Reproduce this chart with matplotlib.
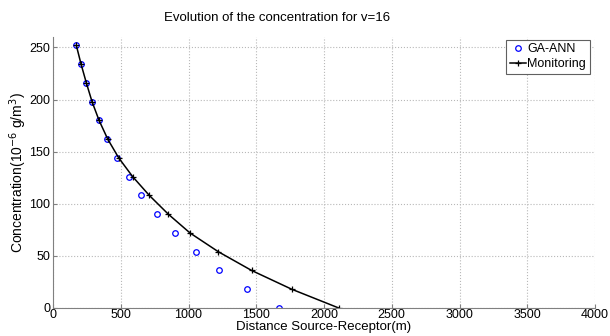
import matplotlib.pyplot as plt

plt.rcParams['font.family'] = ['Liberation Sans', 'DejaVu Sans']

# concentration levels (10^-6 g/m^3)
conc = [252, 234, 216, 198, 180, 162, 144, 126, 108, 90, 72, 54, 36, 18, 0]

# distances (m)
dist_monitoring = [172, 207, 246, 288, 340, 404, 485, 588, 711, 851, 1011, 1220, 1466, 1762, 2109]
dist_ga_ann = [172, 207, 246, 288, 338, 400, 472, 561, 652, 765, 898, 1055, 1227, 1432, 1665]

xticks = [0, 500, 1000, 1500, 2000, 2500, 3000, 3500, 4000]
yticks = [0, 50, 100, 150, 200, 250]

fig = plt.figure(figsize=(6.1, 3.36), dpi=100)
ax = fig.add_axes([53 / 610, 28 / 336, 542 / 610, 271 / 336])

ax.plot(dist_ga_ann, conc, 'o', color='blue', mfc='none', markersize=4,
        markeredgewidth=0.9, label='GA-ANN')
ax.plot(dist_monitoring, conc, '-+', color='black', linewidth=1.1,
        markersize=5, markeredgewidth=0.9, label='Monitoring')

ax.set_xlim(0, 4000)
ax.set_ylim(0, 260)
ax.set_xticks(xticks)
ax.set_yticks(yticks)
ax.grid(True, linestyle=':', color='#b8b8b8', linewidth=0.8)

for side in ['top', 'right']:
    ax.spines[side].set_visible(False)
for side in ['left', 'bottom']:
    ax.spines[side].set_color('#808080')
ax.tick_params(direction='in', length=3, color='#808080', labelsize=9, pad=2)
ax.tick_params(axis='x', pad=1)

ax.set_xlabel('Distance Source-Receptor(m)', fontsize=9.5, labelpad=0)
ax.set_ylabel('Concentration(10$^{-6}$ g/m$^3$)', fontsize=10, labelpad=0)
fig.text(0.454, 0.946, 'Evolution of the concentration for v=16', ha='center',
         va='center', fontsize=9.5)

leg = ax.legend(loc='upper right', bbox_to_anchor=(0.99, 0.99), fontsize=9,
                fancybox=False, framealpha=1, edgecolor='#606060',
                borderpad=0.3, labelspacing=0.2, handlelength=1.3,
                handletextpad=0.1, borderaxespad=0)
leg.get_frame().set_linewidth(0.8)

fig.savefig('out.png', dpi=100)
